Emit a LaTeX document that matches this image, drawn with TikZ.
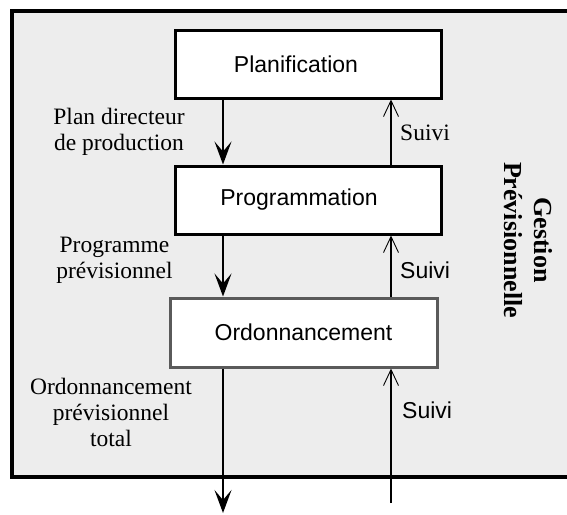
\documentclass[tikz,border=0pt]{standalone}
\usepackage{fontspec}
\setmainfont{Liberation Serif}
\setsansfont{Liberation Sans}
\usetikzlibrary{arrows.meta}
\definecolor{bgfill}{HTML}{EDEDED}
\definecolor{ordborder}{HTML}{5A5A5A}
\begin{document}
\begin{tikzpicture}[x=1pt,y=-1pt,
  stagebox/.style={draw, line width=3pt, fill=white, minimum width=266pt, minimum height=68pt, inner sep=0pt,
    font=\sffamily\fontsize{23}{26}\selectfont},
  lbl/.style={inner sep=0pt, align=center, font=\rmfamily\fontsize{23.5}{26}\selectfont},
  lblsans/.style={inner sep=0pt, font=\sffamily\fontsize{23}{26}\selectfont},
  darr/.style={line width=2pt, -{Stealth[length=23pt,width=17pt,inset=10pt]}},
  uarr/.style={line width=2pt, -{Straight Barb[length=16pt,width=15pt,line width=0.9pt]}}
]
\useasboundingbox (0,0) rectangle (567,514);
\begin{scope}
  \clip (0,0) rectangle (567,514);
  \draw[fill=bgfill, line width=3.5pt] (12,11) rectangle (600,477);
\end{scope}

\node[stagebox] (plan) at (308,64) {\hspace*{-24pt}Planification};
\node[stagebox] (prog) at (308,200) {\hspace*{-18pt}Programmation};
\node[stagebox, draw=ordborder, minimum width=267pt, minimum height=69pt] (ord) at (303.5,332.5) {Ordonnancement};

\coordinate (dl) at (223,0);
\coordinate (ul) at (391,0);
\coordinate (outd) at (223,513);
\coordinate (inu) at (391,503);

\draw[darr] (plan.south -| dl) -- (prog.north -| dl);
\draw[darr] (prog.south -| dl) -- (ord.north -| dl);
\draw[darr] (ord.south -| dl) -- (outd);
\draw[uarr] (prog.north -| ul) -- (plan.south -| ul);
\draw[uarr] (ord.north -| ul) -- (prog.south -| ul);
\draw[uarr] (inu) -- (ord.south -| ul);

\node[lbl] (l1) at (119,132) {Plan directeur\\de production};
\node[lbl] (l2) at (114.5,260.5) {Programme\\prévisionnel};
\node[lbl] (l3) at (111,412) {Ordonnancement\\prévisionnel\\total};

\node[lbl, anchor=base west] (s1) at (400,140) {Suivi};
\node[lblsans, anchor=base west] (s2) at (400,278.7) {Suivi};
\node[lblsans, anchor=base west] (s3) at (402,418) {Suivi};

\node[inner sep=0pt, align=center, rotate=-90, font=\rmfamily\bfseries\fontsize{26}{30}\selectfont] (gp) at (528,240) {Gestion\\Prévisionnelle};
\end{tikzpicture}
\end{document}
